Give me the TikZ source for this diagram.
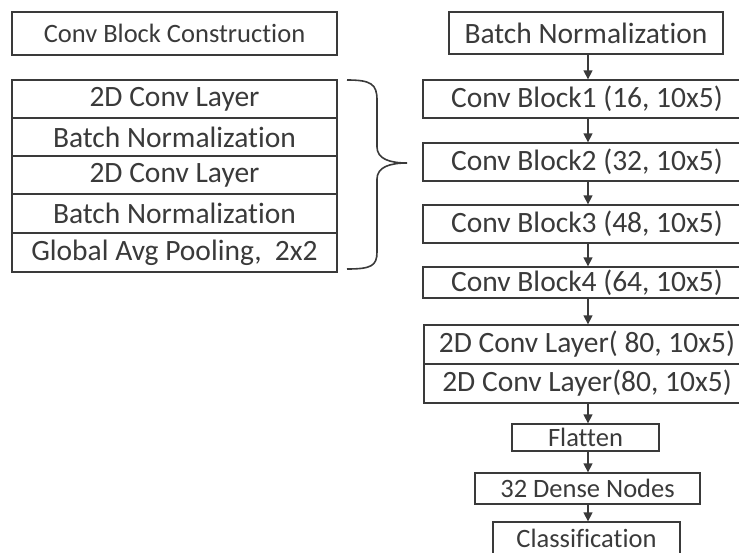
\documentclass[tikz,border=0pt]{standalone}
\usepackage{fontspec}
\setmainfont{Carlito}[Ligatures=NoCommon]
\usetikzlibrary{arrows.meta}
\definecolor{ink}{HTML}{3A3A3A}
\tikzset{
  x=1pt, y=-1pt,
  layer/.style={draw=ink, line width=1.3pt, rectangle, inner sep=0pt, text=ink,
    font=\fontsize{29.5}{34}\selectfont},
  small/.style={font=\fontsize{26.5}{31}\selectfont},
  flow/.style={draw=ink, line width=1.3pt, -{Triangle[length=9pt,width=9pt]}},
  brace/.style={draw=ink, line width=1.6pt}
}
\begin{document}
\begin{tikzpicture}
\useasboundingbox (0,0) rectangle (739,552);
\clip (0,0) rectangle (739,552);

% conv block construction, left side
\node[layer, small, minimum width=325pt, minimum height=43pt] (title) at (174.5,33.5) {Conv Block Construction};
\node[layer, minimum width=325pt, minimum height=38pt] (c1) at (174.5,99)  {2D Conv Layer};
\node[layer, minimum width=325pt, minimum height=38pt] (b1) at (174.5,137) {Batch Normalization};
\node[layer, minimum width=325pt, minimum height=38pt] (c2) at (174.5,175) {2D Conv Layer};
\node[layer, minimum width=325pt, minimum height=39pt] (b2) at (174.5,213.5) {Batch Normalization};
\node[layer, minimum width=325pt, minimum height=39pt] (gp) at (174.5,252.5) {Global Avg Pooling,\ \ 2x2};

% curly brace grouping the block
\coordinate (bt) at (347,80);
\coordinate (bb) at (347,269);
\coordinate (tip) at (407,163);
\draw[brace] (bt) .. controls (371,80) and (377,84) .. (377,100) -- (377,147)
  .. controls (377,159) and (390,163) .. (tip)
  .. controls (390,163) and (377,167) .. (377,179) -- (377,252)
  .. controls (377,266) and (371,269) .. (bb);

% network, right side
\node[layer, minimum width=274pt, minimum height=42pt] (bn) at (586,33) {Batch Normalization};
\node[layer, minimum width=328pt, minimum height=38pt] (k1) at (587,99)  {Conv Block1 (16, 10x5)};
\node[layer, minimum width=328pt, minimum height=38pt] (k2) at (587,162) {Conv Block2 (32, 10x5)};
\node[layer, minimum width=328pt, minimum height=38pt] (k3) at (587,224) {Conv Block3 (48, 10x5)};
\node[layer, minimum width=328pt, minimum height=31pt] (k4) at (587,282.5) {Conv Block4 (64, 10x5)};
\node[layer, minimum width=326pt, minimum height=39pt] (d1) at (587,344.5) {2D Conv Layer( 80, 10x5)};
\node[layer, minimum width=326pt, minimum height=39pt] (d2) at (587,383.5) {2D Conv Layer(80, 10x5)};
\node[layer, small, minimum width=147pt, minimum height=27pt] (fl) at (585.5,437.5) {Flatten};
\node[layer, small, minimum width=225pt, minimum height=31pt] (dn) at (587.5,488.5) {32 Dense Nodes};
\node[layer, small, minimum width=187pt, minimum height=32pt] (cl) at (586.5,538) {Classification};

\draw[flow] (bn.south -| 588,0) -- (k1.north -| 588,0);
\draw[flow] (k1.south -| 588,0) -- (k2.north -| 588,0);
\draw[flow] (k2.south -| 588,0) -- (k3.north -| 588,0);
\draw[flow] (k3.south -| 588,0) -- (k4.north -| 588,0);
\draw[flow] (k4.south -| 588,0) -- (d1.north -| 588,0);
\draw[flow] (d2.south -| 588,0) -- (fl.north -| 588,0);
\draw[flow] (fl.south -| 588,0) -- (dn.north -| 588,0);
\draw[flow] (dn.south -| 588,0) -- (cl.north -| 588,0);
\end{tikzpicture}
\end{document}
